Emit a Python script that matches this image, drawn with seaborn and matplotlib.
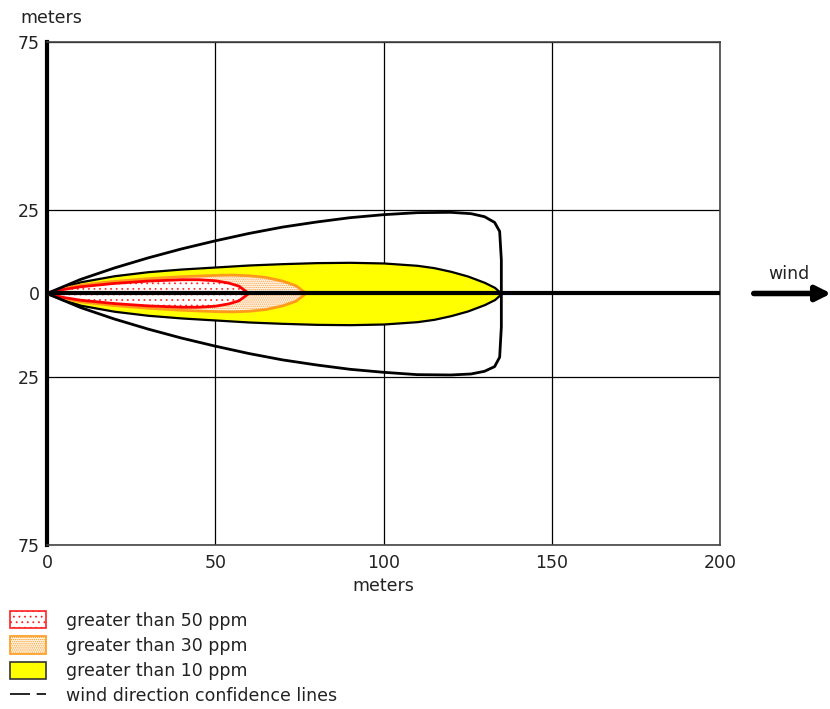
import numpy as np
import matplotlib
matplotlib.use("Agg")
import matplotlib.pyplot as plt
import seaborn as sns
from matplotlib.patches import Patch
from matplotlib.lines import Line2D

# Threat zone half-widths (meters) along the downwind distance (meters)
x_10ppm = [0, 5, 10, 20, 30, 40, 50, 60, 70, 80, 90, 100, 110, 115, 120, 125, 130, 133, 135]
w_10ppm = [0, 2.0, 3.5, 5.3, 6.5, 7.3, 7.9, 8.5, 8.9, 9.2, 9.3, 9.1, 8.4, 7.7, 6.6, 5.2, 3.3, 1.8, 0]

x_30ppm = [0, 5, 10, 20, 30, 40, 50, 55, 60, 65, 70, 74, 77]
w_30ppm = [0, 1.5, 2.5, 3.6, 4.4, 5.0, 5.4, 5.5, 5.3, 4.8, 3.7, 2.3, 0]

x_50ppm = [0, 5, 10, 20, 30, 40, 45, 50, 54, 57, 60]
w_50ppm = [0, 1.2, 2.0, 3.0, 3.7, 4.1, 4.1, 3.8, 3.1, 2.2, 0]

# Wind direction confidence lines (closed outline)
conf_x = [0, 10, 20, 30, 40, 50, 60, 70, 80, 90, 100, 110, 120, 126, 130, 133, 134.5, 135, 135,
          135, 134.5, 133, 130, 126, 120, 110, 100, 90, 80, 70, 60, 50, 40, 30, 20, 10, 0]
conf_y = [0, 4.2, 7.6, 10.6, 13.3, 15.7, 17.9, 19.8, 21.3, 22.6, 23.5, 24.1, 24.2, 23.8, 22.9, 21.2, 18.5, 10, 0,
          -10, -19, -21.8, -23.2, -24.0, -24.3, -24.2, -23.5, -22.6, -21.3, -19.8, -17.9, -15.7, -13.3, -10.6, -7.6, -4.2, 0]

x_ticks = [0, 50, 100, 150, 200]
y_ticks = [75, 25, 0, -25, -75]
y_tick_labels = ["75", "25", "0", "25", "75"]
legend_labels = ["greater than 50 ppm", "greater than 30 ppm",
                 "greater than 10 ppm", "wind direction confidence lines"]

sns.set_theme(style="white")
plt.rcParams["font.family"] = ["DejaVu Sans"]
plt.rcParams["hatch.linewidth"] = 0.6
text_color = "#222222"
fs = 12.5

fig = plt.figure(figsize=(8.3, 7.09), dpi=100)
ax = fig.add_axes([0.0566, 0.2313, 0.811, 0.7095])

# yellow zone
ax.fill_between(x_10ppm, [-v for v in w_10ppm], w_10ppm, facecolor="#ffff00",
                edgecolor="black", linewidth=1.6, zorder=3)
# orange zone
ax.fill_between(x_30ppm, [-v for v in w_30ppm], w_30ppm, facecolor="#fff4e6",
                edgecolor="#ffa040", hatch="........", linewidth=0, zorder=4)
ax.fill_between(x_30ppm, [-v for v in w_30ppm], w_30ppm, facecolor="none",
                edgecolor="#ff9a1a", linewidth=2, zorder=4)
# red zone
ax.fill_between(x_50ppm, [-v for v in w_50ppm], w_50ppm, facecolor="white",
                edgecolor="#ff3030", hatch="...", linewidth=0, zorder=5)
ax.fill_between(x_50ppm, [-v for v in w_50ppm], w_50ppm, facecolor="none",
                edgecolor="#ff0000", linewidth=2, zorder=5)

# confidence lines
sns.lineplot(x=conf_x, y=conf_y, sort=False, estimator=None, color="black",
             linewidth=2, ax=ax, zorder=6)

# centre line
ax.plot([0, 200], [0, 0], color="black", linewidth=3, zorder=7, solid_capstyle="butt")

ax.set_xlim(0, 200)
ax.set_ylim(-75, 75)
ax.set_xticks(x_ticks)
ax.set_yticks(y_ticks)
ax.set_yticklabels(y_tick_labels)
ax.tick_params(length=0, labelsize=fs, colors=text_color)
ax.tick_params(axis="x", pad=6.5)
ax.tick_params(axis="y", pad=5)
ax.grid(True, color="black", linewidth=0.9)
for side in ["top", "right", "bottom"]:
    ax.spines[side].set_color("#444444")
    ax.spines[side].set_linewidth(1.2)
ax.spines["left"].set_color("black")
ax.spines["left"].set_linewidth(3)
ax.set_xlabel("meters", fontsize=fs, color=text_color, labelpad=3.5)
fig.text(0.024, 0.975, "meters", fontsize=fs, color=text_color, va="center", ha="left")

# wind arrow
ax.annotate("", xy=(233, 0), xytext=(210, 0), annotation_clip=False,
            arrowprops=dict(arrowstyle="-|>", lw=4, color="black", mutation_scale=22,
                            shrinkA=0, shrinkB=0))
ax.text(220.5, 5.8, "wind", fontsize=fs, color=text_color, ha="center", va="center", clip_on=False)

handles = [
    Patch(facecolor="white", edgecolor="#ff2020", hatch="...", linewidth=1.2),
    Patch(facecolor="#fff4e6", edgecolor="#ff9a1a", hatch="........", linewidth=1.2),
    Patch(facecolor="#ffff00", edgecolor="#333333", linewidth=1.2),
    Line2D([0], [0], color="black", linewidth=1.2, dashes=(12, 4, 6, 50)),
]
fig.legend(handles, legend_labels, loc="upper left", bbox_to_anchor=(0.012, 0.138),
           frameon=False, fontsize=fs, handlelength=2.1, handleheight=1.15,
           labelspacing=0.39, handletextpad=1.15, borderpad=0, borderaxespad=0,
           labelcolor=text_color)

fig.savefig("out.png", dpi=100)
